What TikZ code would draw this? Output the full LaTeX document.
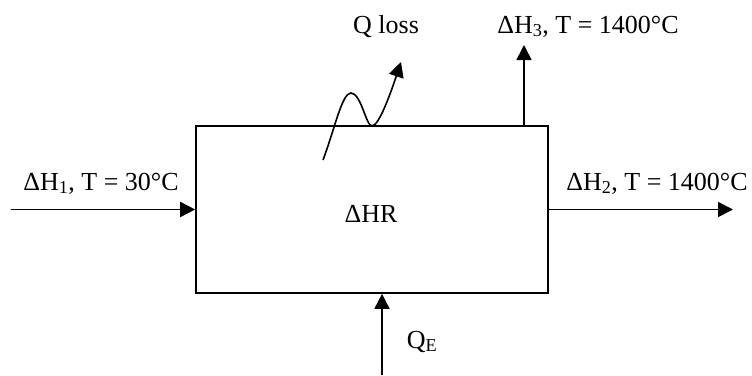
\documentclass[tikz,border=0pt]{standalone}
\usepackage{fontspec}
\setmainfont{Liberation Serif}
\usetikzlibrary{arrows.meta}
\tikzset{
  flow/.style={line width=1.6pt,-{Triangle[length=15pt,width=15pt]}},
  lbl/.style={anchor=base,inner sep=0pt,font=\fontsize{26}{30}\selectfont},
  boxst/.style={draw,line width=1.6pt,minimum width=352pt,minimum height=167pt,inner sep=0pt}
}
\begin{document}
\begin{tikzpicture}[x=1pt,y=1pt]
\useasboundingbox (0,0) rectangle (752,-375);
\node[boxst] (box) at (372,-209.5) {};
\node[lbl] (hr) at (371,-222) {ΔHR};
\node[lbl] (h1) at (101,-190) {ΔH\textsubscript{1}, T = 30°C};
\node[lbl] (h2) at (657,-190) {ΔH\textsubscript{2}, T = 1400°C};
\node[lbl] (h3) at (588,-33) {ΔH\textsubscript{3}, T = 1400°C};
\node[lbl] (ql) at (386,-33) {Q loss};
\node[lbl] (qe) at (422,-348) {Q\textsubscript{E}};
\coordinate (in1) at (10.6,-209.5);
\coordinate (out2) at (733,-209.5);
\coordinate (out3) at (524,-45);
\coordinate (qin) at (382,-375);
\coordinate (ws) at (323,-160);
\coordinate (wt) at (401,-62);
\draw[flow] (in1) -- (box.west);
\draw[flow] (box.east) -- (out2);
\draw[flow] (box.north -| out3) -- (out3);
\draw[flow] (qin) -- (box.south -| qin);
\draw[flow] (ws) .. controls (335,-128) and (342,-93) .. (351,-93)
  .. controls (361,-93) and (366,-126) .. (372,-126)
  .. controls (379,-126) and (391,-92) .. (wt);
\end{tikzpicture}
\end{document}
